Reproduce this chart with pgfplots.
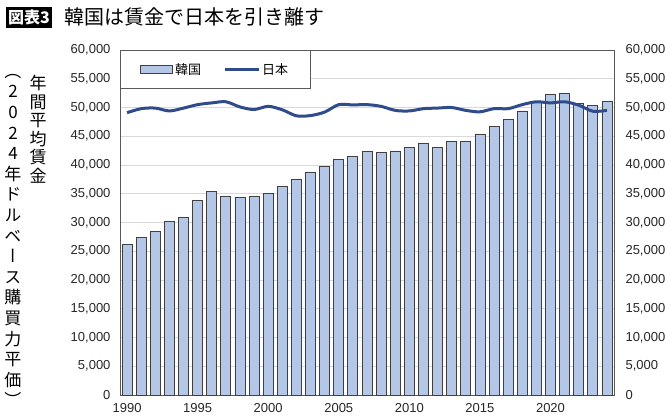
\documentclass[border=0pt]{standalone}
\usepackage{pgfplots}
\pgfplotsset{compat=1.18}
\usepackage{pgfplotstable}
\usepackage{fontspec}
\setmainfont{Liberation Sans}
\newfontfamily\jp{Noto Sans CJK JP}
\newfontfamily\jpv[RawFeature=+vert]{Noto Sans CJK JP}

\definecolor{korbar}{RGB}{180,199,231}
\definecolor{baredge}{RGB}{64,64,64}
\definecolor{jpline}{RGB}{47,75,140}
\definecolor{framec}{RGB}{89,89,89}
\definecolor{gridc}{RGB}{217,217,217}
\definecolor{ticktext}{RGB}{38,38,38}

% annual average wage, 2024 USD PPP
\pgfplotstableread{
year kor jpn
1990 26250 49100
1991 27400 49800
1992 28500 49900
1993 30200 49400
1994 30900 49900
1995 33800 50500
1996 35400 50800
1997 34600 51000
1998 34400 50100
1999 34600 49650
2000 35000 50200
2001 36200 49600
2002 37500 48550
2003 38800 48600
2004 39700 49200
2005 40900 50500
2006 41500 50450
2007 42300 50500
2008 42200 50200
2009 42450 49500
2010 43000 49400
2011 43700 49800
2012 43000 49900
2013 44100 50000
2014 44100 49500
2015 45400 49250
2016 46700 49800
2017 47900 49800
2018 49400 50500
2019 51000 51000
2020 52300 50800
2021 52400 51000
2022 50700 50400
2023 50400 49350
2024 51000 49500
}\wages

\begin{document}
\begin{tikzpicture}
\path[use as bounding box] (0pt,0pt) rectangle (670pt,-418pt);

\node[fill=black, text=white, font=\jp\bfseries\fontsize{16}{16}\selectfont,
      inner xsep=2pt, inner ysep=1pt, minimum height=21pt, anchor=west] at (6pt,-17pt) {図表3};
\node[font=\jp\fontsize{20}{20}\selectfont, anchor=west, inner sep=0pt] at (64pt,-17pt)
  {韓国は賃金で日本を引き離す};

\node[font=\jpv\fontsize{17}{18.5}\selectfont, align=center, anchor=north, inner sep=0pt]
  at (38pt,-75pt) {年\\間\\平\\均\\賃\\金};
\node[font=\jpv\fontsize{17}{20.6}\selectfont, align=center, anchor=north, inner sep=0pt]
  at (13pt,-74pt) {（\\2\\0\\2\\4\\年\\ド\\ル\\ベ\\ー\\ス\\購\\買\\力\\平\\価\\）};

\begin{axis}[
  at={(120pt,-395pt)}, anchor=south west,
  scale only axis, width=494pt, height=345pt,
  xmin=1989.5, xmax=2024.5, ymin=0, ymax=60000,
  axis line style={draw=framec, line width=0.9pt},
  ymajorgrids, grid style={draw=gridc, line width=0.7pt},
  ytick={0,5000,...,60000},
  xtick={1990,1995,...,2020},
  major tick length=0pt,
  scaled y ticks=false,
  yticklabel style={font=\fontsize{13}{13}\selectfont, text=ticktext,
    /pgf/number format/1000 sep={,}, /pgf/number format/assume math mode=true, xshift=-6pt},
  xticklabel style={font=\fontsize{13}{13}\selectfont, text=ticktext,
    /pgf/number format/1000 sep={}, /pgf/number format/assume math mode=true, yshift=-5pt},
  legend style={at={(0,1)}, anchor=north west, draw=framec, line width=0.9pt, fill=white,
    font=\jp\fontsize{13}{13}\selectfont, inner xsep=20pt, inner ysep=11pt,
    /tikz/every even column/.append style={column sep=20pt}},
  legend columns=2,
  legend cell align=left,
]
\addplot[ybar, bar width=10pt, fill=korbar, draw=baredge, line width=0.8pt,
  legend image code/.code={\draw[fill=korbar, draw=baredge, line width=0.7pt] (0pt,-4pt) rectangle (32pt,4pt);}]
  table[x=year, y=kor]{\wages};
\addlegendentry{韓国}
\addplot[smooth, color=jpline, line width=3pt, no markers,
  legend image code/.code={\draw[jpline, line width=3pt] (0pt,0pt) -- (34pt,0pt);}]
  table[x=year, y=jpn]{\wages};
\addlegendentry{日本}
\end{axis}

\begin{axis}[
  at={(120pt,-395pt)}, anchor=south west,
  scale only axis, width=494pt, height=345pt,
  xmin=1989.5, xmax=2024.5, ymin=0, ymax=60000,
  hide x axis, axis y line*=right, y axis line style={draw=none},
  ytick={0,5000,...,60000},
  major tick length=0pt,
  scaled y ticks=false,
  yticklabel style={font=\fontsize{13}{13}\selectfont, text=ticktext,
    /pgf/number format/1000 sep={,}, /pgf/number format/assume math mode=true, xshift=8pt},
]
\end{axis}
\end{tikzpicture}
\end{document}
